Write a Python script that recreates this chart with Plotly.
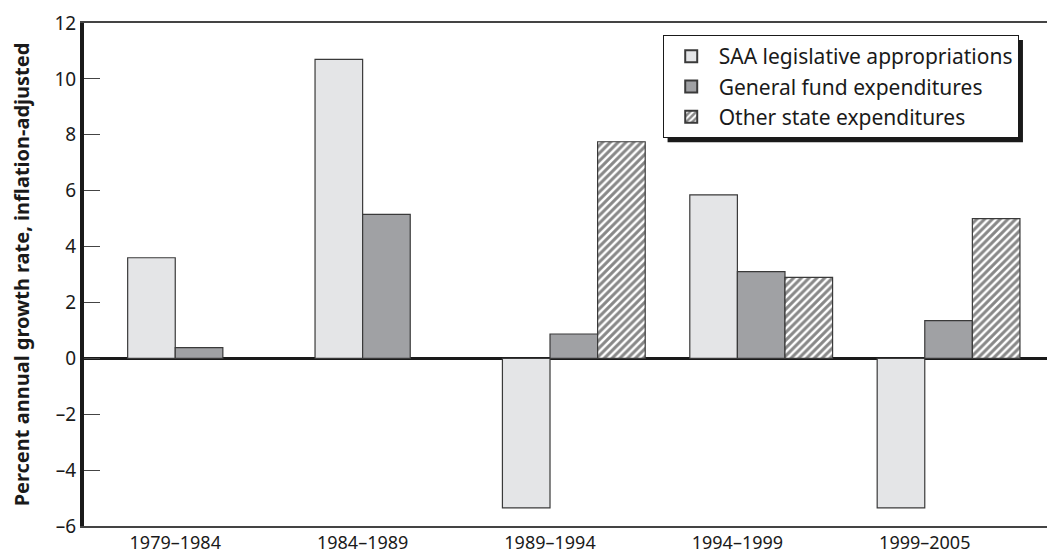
import plotly.graph_objects as go

categories = ["1979–1984", "1984–1989", "1989–1994", "1994–1999", "1999–2005"]
saa = [3.6, 10.7, -5.35, 5.85, -5.35]
general_fund = [0.38, 5.15, 0.87, 3.1, 1.35]
other_state = [0, 0, 7.75, 2.9, 5.0]
y_ticks = [-6, -4, -2, 0, 2, 4, 6, 8, 10, 12]
y_tick_text = ["–6", "–4", "–2", "0", "2", "4", "6", "8", "10", "12"]

W = 0.254
line = dict(color="#3a3a3a", width=1.2)
fig = go.Figure()
fig.add_trace(go.Bar(x=categories, y=saa, name="SAA legislative appropriations",
                     width=W, offset=-W, marker=dict(color="#e4e5e7", line=line)))
fig.add_trace(go.Bar(x=categories, y=general_fund, name="General fund expenditures",
                     width=W, offset=0, marker=dict(color="#a0a1a4", line=line)))
fig.add_trace(go.Bar(x=[c for c, v in zip(categories, other_state) if v != 0],
                     y=[v for v in other_state if v != 0], name="Other state expenditures",
                     width=W, offset=W,
                     marker=dict(color="white", line=line,
                                 pattern=dict(shape="/", fgcolor="#111111", bgcolor="white",
                                              size=5.5, solidity=0.55))))

fig.update_layout(
    width=1047, height=550,
    margin=dict(l=76, r=0, t=15, b=32, autoexpand=False),
    paper_bgcolor="white", plot_bgcolor="white",
    font=dict(family="Noto Sans", size=18, color="#1a1a1a"),
    barmode="group",
    showlegend=True,
    legend=dict(x=0.596, y=0.976, xanchor="left", yanchor="top",
                bgcolor="white", bordercolor="#1a1a1a", borderwidth=1,
                font=dict(size=21), tracegroupgap=0, itemsizing="constant",
                itemwidth=45),
    xaxis=dict(type="category", range=[-0.487, 4.695], showline=True, linecolor="#444",
               linewidth=1.5, mirror=True, ticks="", showgrid=False,
               tickfont=dict(size=18)),
    yaxis=dict(range=[-6, 12], tickvals=y_ticks, ticktext=y_tick_text,
               showline=True, linecolor="#1a1a1a", linewidth=4,
               ticks="inside", ticklen=16, tickcolor="#444", tickwidth=1.2,
               ticklabeloverflow="allow",
               showgrid=False, zeroline=True, zerolinecolor="#1a1a1a", zerolinewidth=3,
               title=dict(text="<b>Percent annual growth rate, inflation-adjusted</b>",
                          font=dict(size=20), standoff=28),
               tickfont=dict(size=19)),
)
# legend drop shadow
fig.add_shape(type="rect", xref="paper", yref="paper", layer="below",
              x0=0.601, x1=0.967, y0=0.763, y1=0.966,
              fillcolor="#1a1a1a", line=dict(width=0))
fig.write_html("out.html")
